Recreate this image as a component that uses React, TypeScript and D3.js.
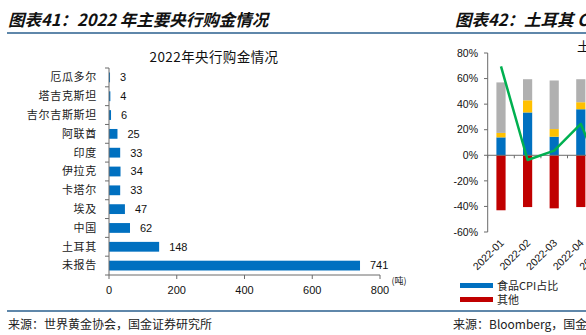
import React from "react";
import * as d3 from "d3";

const categories = ["厄瓜多尔", "塔吉克斯坦", "吉尔吉斯斯坦", "阿联酋", "印度", "伊拉克", "卡塔尔", "埃及", "中国", "土耳其", "未报告"];
const purchases = [3, 4, 6, 25, 33, 34, 33, 47, 62, 148, 741];
const xTicks = [0, 200, 400, 600, 800];

const months = ["2022-01", "2022-02", "2022-03", "2022-04", "2022-05"];
const foodShare = [14, 33.5, 14.5, 36, 30];
const yellowShare = [3.5, 9.5, 6, 5.5, 5];
const grayShare = [39.5, 16.5, 38, 18, 22];
const otherShare = [-43, -40.5, -41.5, -40.5, -41];
const lineValues = [69.5, -3.7, 3.6, 24.5, -24];
const yTicksR = [80, 60, 40, 20, 0, -20, -40, -60];

const CJK = "'Noto Sans CJK SC', sans-serif";
const NUM = "'Liberation Sans', Arial, sans-serif";
const BLUE = "#0070C0";
const RED = "#C00000";
const YELLOW = "#FFC000";
const GRAY = "#B0B0B0";
const GREEN = "#00B050";
const RULE = "#2A5F8E";
const AXIS = "#6b6b6b";

export default function App() {
  // Left chart scales
  const x = d3.scaleLinear().domain([0, 800]).range([109, 380]);
  const y = d3.scaleBand<string>().domain(categories).range([68, 275]).paddingInner(0.48).paddingOuter(0.24);
  const step = (275 - 68) / categories.length;

  // Right chart scales
  const stepR = 26.6;
  const xR = d3.scaleBand<string>().domain(months).range([487.7, 487.7 + stepR * months.length]).paddingInner(0.655).paddingOuter(0.3275);
  const yR = d3.scaleLinear().domain([-60, 80]).range([232, 53]);
  const line = d3.line<number>().x((_, i) => (xR(months[i]) as number) + xR.bandwidth() / 2).y((d) => yR(d));

  return (
    <svg width={586} height={335} style={{ position: "fixed", left: 0, top: 0, background: "#fff" }}>
      <rect x={0} y={0} width={586} height={335} fill="#fff" />
      {/* headers */}
      <text x={8} y={26} fontFamily={CJK} fontSize={16.5} fontWeight={700} fontStyle="italic" fill="#111">图表41：2022 年主要央行购金情况</text>
      <text x={455} y={26} fontFamily={CJK} fontSize={16.5} fontWeight={700} fontStyle="italic" fill="#111">图表42：土耳其 CPI 构成</text>
      <line x1={7} x2={586} y1={33} y2={33} stroke={RULE} strokeWidth={1.5} />
      <line x1={7} x2={586} y1={311} y2={311} stroke={RULE} strokeWidth={1.5} />
      <text x={8} y={329} fontFamily={CJK} fontSize={12} fill="#222">来源：世界黄金协会，国金证券研究所</text>
      <text x={453} y={329} fontFamily={CJK} fontSize={12} fill="#222">来源：Bloomberg，国金证券研究所</text>

      {/* Left chart */}
      <text x={214} y={62} textAnchor="middle" fontFamily={CJK} fontSize={13.5} letterSpacing={0.4} fill="#111">2022年央行购金情况</text>
      {categories.map((c, i) => {
        const yy = y(c) as number;
        const cy = yy + y.bandwidth() / 2;
        return (
          <g key={c}>
            <rect x={x(0)} y={yy} width={x(purchases[i]) - x(0)} height={y.bandwidth()} fill={BLUE} />
            <text x={x(purchases[i]) + 10} y={cy} dy="0.35em" fontFamily={NUM} fontSize={11} fill="#111">{purchases[i]}</text>
            <text x={97} y={cy} dy="0.35em" textAnchor="end" fontFamily={CJK} fontSize={11} letterSpacing={0.7} fill="#222">{c}</text>
          </g>
        );
      })}
      <line x1={109} x2={109} y1={68} y2={275} stroke={AXIS} strokeWidth={1} />
      {d3.range(categories.length + 1).map((i) => (
        <line key={"yt" + i} x1={105} x2={109} y1={68 + i * step} y2={68 + i * step} stroke={AXIS} />
      ))}
      <line x1={109} x2={380} y1={275} y2={275} stroke={AXIS} strokeWidth={1} />
      {xTicks.map((t) => (
        <g key={"xt" + t}>
          <line x1={x(t)} x2={x(t)} y1={275} y2={279} stroke={AXIS} />
          <text x={x(t)} y={290} dy="0.35em" textAnchor="middle" fontFamily={NUM} fontSize={11} fill="#111">{t}</text>
        </g>
      ))}
      <text x={399} y={281} dy="0.35em" textAnchor="middle" fontFamily={CJK} fontSize={9} fill="#222">(吨)</text>

      {/* Right chart */}
      <text x={577} y={51} fontFamily={CJK} fontSize={13} fill="#111">土耳其CPI构成</text>
      {months.map((m, i) => {
        const bx = xR(m) as number;
        const w = xR.bandwidth();
        const f0 = yR(0), f1 = yR(foodShare[i]);
        const y1 = yR(foodShare[i] + yellowShare[i]);
        const g1 = yR(foodShare[i] + yellowShare[i] + grayShare[i]);
        return (
          <g key={m}>
            <rect x={bx} y={f1} width={w} height={f0 - f1} fill={BLUE} />
            <rect x={bx} y={y1} width={w} height={f1 - y1} fill={YELLOW} />
            <rect x={bx} y={g1} width={w} height={y1 - g1} fill={GRAY} />
            <rect x={bx} y={f0} width={w} height={yR(otherShare[i]) - f0} fill={RED} />
          </g>
        );
      })}
      <line x1={487.7} x2={586} y1={yR(0)} y2={yR(0)} stroke={AXIS} />
      {d3.range(months.length + 1).map((i) => (
        <line key={"xr" + i} x1={487.7 + i * stepR} x2={487.7 + i * stepR} y1={yR(0)} y2={yR(0) + 3} stroke={AXIS} />
      ))}
      <line x1={487.7} x2={487.7} y1={53} y2={232} stroke={AXIS} />
      {yTicksR.map((t) => (
        <g key={"yr" + t}>
          <line x1={484} x2={487.7} y1={yR(t)} y2={yR(t)} stroke={AXIS} />
          <text x={478} y={yR(t)} dy="0.35em" textAnchor="end" fontFamily={NUM} fontSize={10.5} fill="#111">{t}%</text>
        </g>
      ))}
      <path d={line(lineValues) || ""} fill="none" stroke={GREEN} strokeWidth={2.5} strokeLinejoin="round" />
      {months.map((m) => {
        const cx = (xR(m) as number) + xR.bandwidth() / 2;
        return (
          <text key={"lab" + m} transform={`translate(${cx + 1},${241}) rotate(-45)`} textAnchor="end" dy="0.35em" fontFamily={NUM} fontSize={10.5} fill="#111">{m}</text>
        );
      })}
      <rect x={460} y={283} width={33} height={5} fill={BLUE} />
      <text x={497} y={286} dy="0.35em" fontFamily={CJK} fontSize={11} fill="#222">食品CPI占比</text>
      <rect x={460} y={297} width={33} height={5} fill={RED} />
      <text x={497} y={300} dy="0.35em" fontFamily={CJK} fontSize={11} fill="#222">其他</text>
    </svg>
  );
}
